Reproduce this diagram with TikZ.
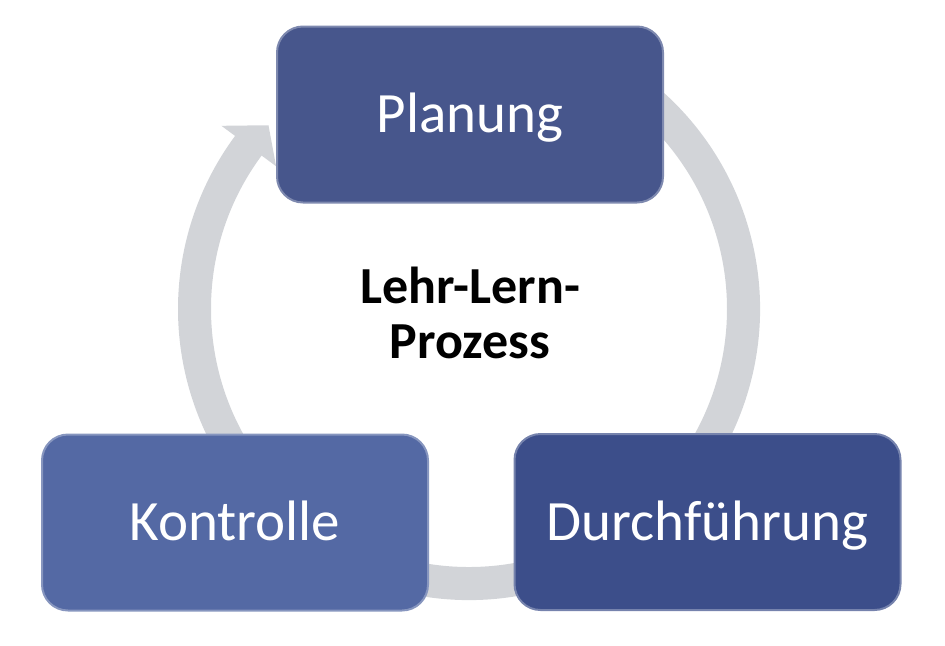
\documentclass[tikz,border=0pt]{standalone}
\usepackage{fontspec}
\setmainfont{Carlito}
\usepackage{tikz}

\definecolor{planblue}{RGB}{71,86,140}
\definecolor{durchblue}{RGB}{60,78,138}
\definecolor{kontrblue}{RGB}{84,105,164}
\definecolor{ringgray}{RGB}{210,212,216}

\begin{document}
\begin{tikzpicture}[x=0.5pt,y=0.5pt]
  % Styles local to this figure.
  \tikzset{
    phase/.style={rounded corners=13pt,minimum width=193pt,minimum height=88pt,
      inner sep=0pt,line width=1pt,text=white,text height=19pt,text depth=1pt,
      font=\fontsize{28.5}{34}\selectfont},
    ring/.style={fill=ringgray},
    core/.style={align=center,inner sep=0pt,font=\bfseries\fontsize{26}{27.5}\selectfont}
  }
  \useasboundingbox (0,0) rectangle (945,645);

  % Circular arrow, drawn first so the boxes cover it.
  \begin{scope}[shift={(469,336)}]
    \fill[ring] (70:291) arc[start angle=70,end angle=-216.5,radius=291]
      -- (143.5:308) -- (137.5:272) -- (143.5:240) -- (143.5:258)
      arc[start angle=-216.5,end angle=70,radius=258] -- cycle;
  \end{scope}

  % The three phases.
  \node[phase,fill=planblue,draw=planblue!70!white] (plan) at (470,530.5) {Planung};
  \node[phase,fill=durchblue,draw=durchblue!70!white] (durch) at (707.5,123) {Durchführung};
  \node[phase,fill=kontrblue,draw=kontrblue!70!white] (kontr) at (235,122.5) {Kontrolle};

  % Label in the middle of the cycle.
  \node[core] (proc) at (470,332.5) {Lehr-Lern-\\Prozess};
\end{tikzpicture}
\end{document}
